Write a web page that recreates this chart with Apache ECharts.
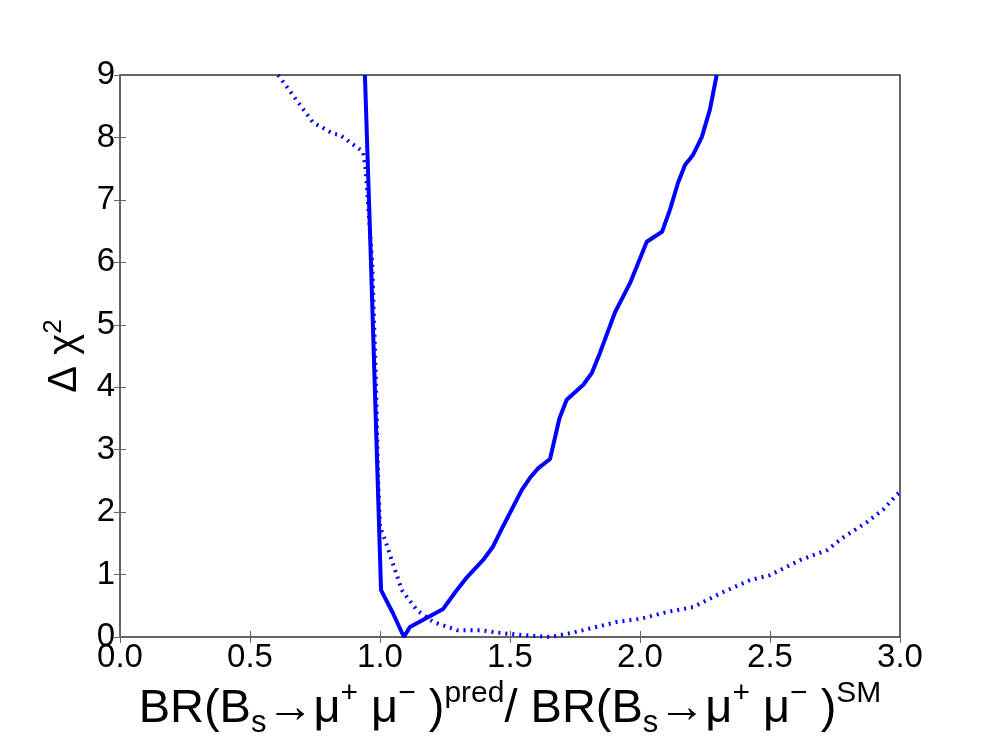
<!DOCTYPE html>
<html>
<head>
<meta charset="utf-8">
<script src="https://cdn.jsdelivr.net/npm/echarts@6/dist/echarts.min.js"></script>
<style>
  html, body { margin: 0; padding: 0; background: #fff; }
  #main { width: 1000px; height: 750px; }
</style>
</head>
<body>
<div id="main"></div>
<script>
// solid curve
const solidX = [0.942, 0.965, 1.004, 1.05, 1.092, 1.115, 1.243, 1.29, 1.335, 1.396, 1.435, 1.473, 1.546, 1.577, 1.608, 1.654, 1.69, 1.718, 1.782, 1.815, 1.846, 1.904, 1.962, 2.026, 2.085, 2.115, 2.146, 2.173, 2.204, 2.238, 2.269, 2.295];
const solidY = [9.0, 6.04, 0.75, 0.38, 0.0, 0.16, 0.45, 0.72, 0.96, 1.23, 1.45, 1.77, 2.36, 2.55, 2.7, 2.85, 3.5, 3.8, 4.04, 4.23, 4.55, 5.2, 5.67, 6.33, 6.49, 6.84, 7.27, 7.56, 7.72, 8.01, 8.45, 9.0];
// dotted curve
const dottedX = [0.608, 0.742, 0.82, 0.846, 0.935, 0.945, 0.97, 0.985, 0.993, 1.0, 1.02, 1.045, 1.084, 1.142, 1.205, 1.296, 1.385, 1.473, 1.58, 1.654, 1.73, 1.782, 1.91, 2.0, 2.103, 2.204, 2.32, 2.423, 2.5, 2.615, 2.719, 2.78, 2.873, 2.935, 2.988, 3.0];
const dottedY = [9.0, 8.24, 8.06, 8.04, 7.77, 7.48, 6.0, 4.0, 2.5, 1.76, 1.55, 1.23, 0.75, 0.43, 0.24, 0.11, 0.11, 0.06, 0.02, 0.0, 0.06, 0.11, 0.24, 0.29, 0.4, 0.48, 0.72, 0.91, 0.99, 1.23, 1.39, 1.59, 1.84, 2.04, 2.28, 2.32];
const xTicks = [0.0, 0.5, 1.0, 1.5, 2.0, 2.5, 3.0];
const yTicks = [0, 1, 2, 3, 4, 5, 6, 7, 8, 9];

const font = 'Liberation Sans';
const zip = (xs, ys) => xs.map((x, i) => [x, ys[i]]);

const tickStyle = { show: true, inside: true, length: 6, lineStyle: { color: '#666', width: 1 } };

const chart = echarts.init(document.getElementById('main'));
chart.setOption({
  animation: false,
  backgroundColor: '#fff',
  grid: { left: 120, right: 100, top: 75, bottom: 113, show: true, borderColor: '#333', borderWidth: 1.5 },
  xAxis: [
    {
      type: 'value', min: 0, max: 3, interval: 0.5,
      axisLine: { show: false },
      axisTick: tickStyle,
      splitLine: { show: false },
      axisLabel: { fontFamily: font, fontSize: 33, color: '#000', margin: 4,
        formatter: v => xTicks.includes(v) ? v.toFixed(1) : '' },
      nameLocation: 'middle', nameGap: 40,
      name: '{b|BR(B}{sub|s}{b|→μ}{sup|+}{b| μ}{sup|−}{b| )}{sup|pred}{b|/ BR(B}{sub|s}{b|→μ}{sup|+}{b| μ}{sup|−}{b| )}{sup|SM}',
      nameTextStyle: {
        rich: {
          b: { fontFamily: font, fontSize: 47, color: '#000', lineHeight: 60, verticalAlign: 'middle' },
          sub: { fontFamily: font, fontSize: 31, color: '#000', lineHeight: 30, verticalAlign: 'bottom' },
          sup: { fontFamily: font, fontSize: 30, color: '#000', lineHeight: 28, verticalAlign: 'top' }
        }
      }
    },
    {
      type: 'value', position: 'top', min: 0, max: 3, interval: 0.5,
      axisLine: { show: false }, axisTick: tickStyle, axisLabel: { show: false }, splitLine: { show: false }
    }
  ],
  yAxis: [
    {
      type: 'value', min: 0, max: 9, interval: 1,
      axisLine: { show: false },
      axisTick: tickStyle,
      splitLine: { show: false },
      axisLabel: { fontFamily: font, fontSize: 33, color: '#000', margin: 5,
        formatter: v => yTicks.includes(v) ? String(v) : '' },
      nameLocation: 'middle', nameGap: 31, nameRotate: 90,
      name: '{b|Δ χ}{sup|2}',
      nameTextStyle: {
        rich: {
          b: { fontFamily: font, fontSize: 40, color: '#000', lineHeight: 48, verticalAlign: 'middle' },
          sup: { fontFamily: font, fontSize: 26, color: '#000', lineHeight: 26, verticalAlign: 'top' }
        }
      }
    },
    {
      type: 'value', position: 'right', min: 0, max: 9, interval: 1,
      axisLine: { show: false }, axisTick: tickStyle, axisLabel: { show: false }, splitLine: { show: false }
    }
  ],
  series: [
    {
      type: 'line', data: zip(dottedX, dottedY), showSymbol: false, smooth: false,
      lineStyle: { color: '#0000ff', width: 4, type: [2, 5], cap: 'butt' }
    },
    {
      type: 'line', data: zip(solidX, solidY), showSymbol: false, smooth: false,
      lineStyle: { color: '#0000ff', width: 4 }
    }
  ]
});
</script>
</body>
</html>
